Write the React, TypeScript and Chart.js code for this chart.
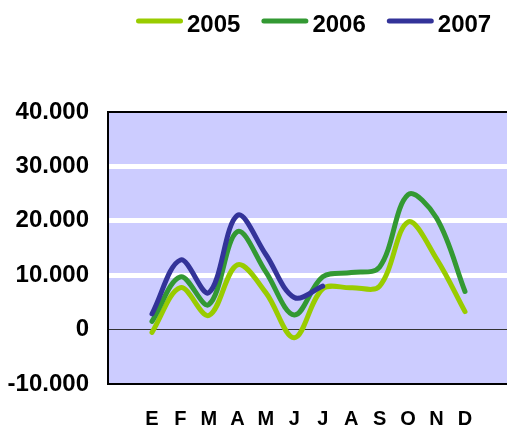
import React, { useEffect, useRef } from 'react';
import { Chart, registerables } from 'chart.js';

Chart.register(...registerables);

const months = ['E', 'F', 'M', 'A', 'M', 'J', 'J', 'A', 'S', 'O', 'N', 'D'];
const seriesNames = ['2005', '2006', '2007'];
const values2005 = [-500, 7700, 2600, 11900, 6800, -1500, 7500, 7700, 8000, 19800, 13000, 3300];
const values2006 = [1500, 9700, 4600, 18000, 10600, 2700, 9700, 10500, 11500, 24800, 20500, 7000];
const values2007 = [2900, 12800, 6800, 21000, 13800, 5900, 8000];
const seriesColors = ['#99cc00', '#339933', '#333399'];
const yMin = -10000;
const yMax = 40000;
const yStep = 10000;

const fmt = (v: number) => {
  const s = Math.abs(v).toString().replace(/\B(?=(\d{3})+(?!\d))/g, '.');
  return (v < 0 ? '-' : '') + s;
};

const FONT = "'Liberation Sans', Arial, sans-serif";

const framePlugin = {
  id: 'frameAndLegend',
  beforeDraw(chart: any) {
    const { ctx, chartArea } = chart;
    ctx.save();
    ctx.fillStyle = '#ccccff';
    ctx.fillRect(chartArea.left, chartArea.top, chartArea.right - chartArea.left, chartArea.bottom - chartArea.top);
    ctx.restore();
  },
  afterDraw(chart: any) {
    const { ctx, chartArea } = chart;
    ctx.save();
    ctx.strokeStyle = '#000';
    ctx.lineWidth = 2;
    ctx.beginPath();
    ctx.moveTo(chartArea.right, chartArea.top);
    ctx.lineTo(chartArea.left, chartArea.top);
    ctx.lineTo(chartArea.left, chartArea.bottom);
    ctx.lineTo(chartArea.right, chartArea.bottom);
    ctx.stroke();

    // legend
    ctx.font = `bold 24px ${FONT}`;
    ctx.textBaseline = 'alphabetic';
    ctx.textAlign = 'left';
    let x = 136;
    const y = 21;
    chart.data.datasets.forEach((ds: any) => {
      ctx.strokeStyle = ds.borderColor;
      ctx.lineWidth = 5;
      ctx.lineCap = 'round';
      ctx.beginPath();
      ctx.moveTo(x + 2.5, y);
      ctx.lineTo(x + 44.5, y);
      ctx.stroke();
      ctx.fillStyle = '#000';
      ctx.fillText(ds.label, x + 51, 32);
      const w = ctx.measureText(ds.label).width;
      x = x + 51 + w + 21;
    });
    ctx.restore();
  },
};

export default function App() {
  const ref = useRef<HTMLCanvasElement>(null);
  useEffect(() => {
    if (!ref.current) return;
    const all = [values2005, values2006, values2007];
    const pxPerUnit = (465 - 152) / 11;
    const xMin = -(152 - 108) / pxPerUnit;
    const xMax = xMin + (507 - 108) / pxPerUnit;
    const chart = new Chart(ref.current, {
      type: 'line',
      data: {
        datasets: all.map((vals, k) => ({
          label: seriesNames[k],
          data: vals.map((v, i) => ({ x: i, y: v })),
          borderColor: seriesColors[k],
          backgroundColor: seriesColors[k],
          borderWidth: 5,
          borderCapStyle: 'round',
          borderJoinStyle: 'round',
          pointRadius: 0,
          tension: 0.35,
          fill: false,
          order: 2 - k,
        })),
      },
      options: {
        responsive: false,
        animation: false,
        events: [],
        layout: { padding: { top: 112, right: 0, bottom: 0, left: 0 } },
        plugins: {
          legend: { display: false },
          tooltip: { enabled: false },
        },
        scales: {
          x: {
            type: 'linear',
            min: xMin,
            max: xMax,
            grid: { display: false, drawTicks: false },
            border: { display: false },
            afterBuildTicks: (scale: any) => {
              scale.ticks = months.map((_, i) => ({ value: i }));
            },
            afterFit: (scale: any) => {
              scale.height = 46;
            },
            ticks: {
              autoSkip: false,
              maxRotation: 0,
              padding: 23,
              color: '#000',
              font: { family: FONT, size: 20, weight: 'bold' },
              callback: (v: any) => months[v] ?? '',
            },
          },
          y: {
            min: yMin,
            max: yMax,
            grid: {
              drawTicks: false,
              color: (c: any) => {
                const v = c.tick?.value;
                if (v === 0) return '#333333';
                if (v === yMin || v === yMax) return 'rgba(0,0,0,0)';
                return '#ffffff';
              },
              lineWidth: (c: any) => (c.tick?.value === 0 ? 1 : 5),
            },
            border: { display: false },
            afterFit: (scale: any) => {
              scale.width = 108;
            },
            ticks: {
              stepSize: yStep,
              padding: 19,
              color: '#000',
              font: { family: FONT, size: 24, weight: 'bold' },
              callback: (v: any) => fmt(Number(v)),
            },
          },
        },
      },
      plugins: [framePlugin],
    } as any);
    return () => chart.destroy();
  }, []);
  return (
    <div style={{ position: 'absolute', left: 0, top: 0, width: 507, height: 430, background: '#fff' }}>
      <canvas ref={ref} width={507} height={430} />
    </div>
  );
}
